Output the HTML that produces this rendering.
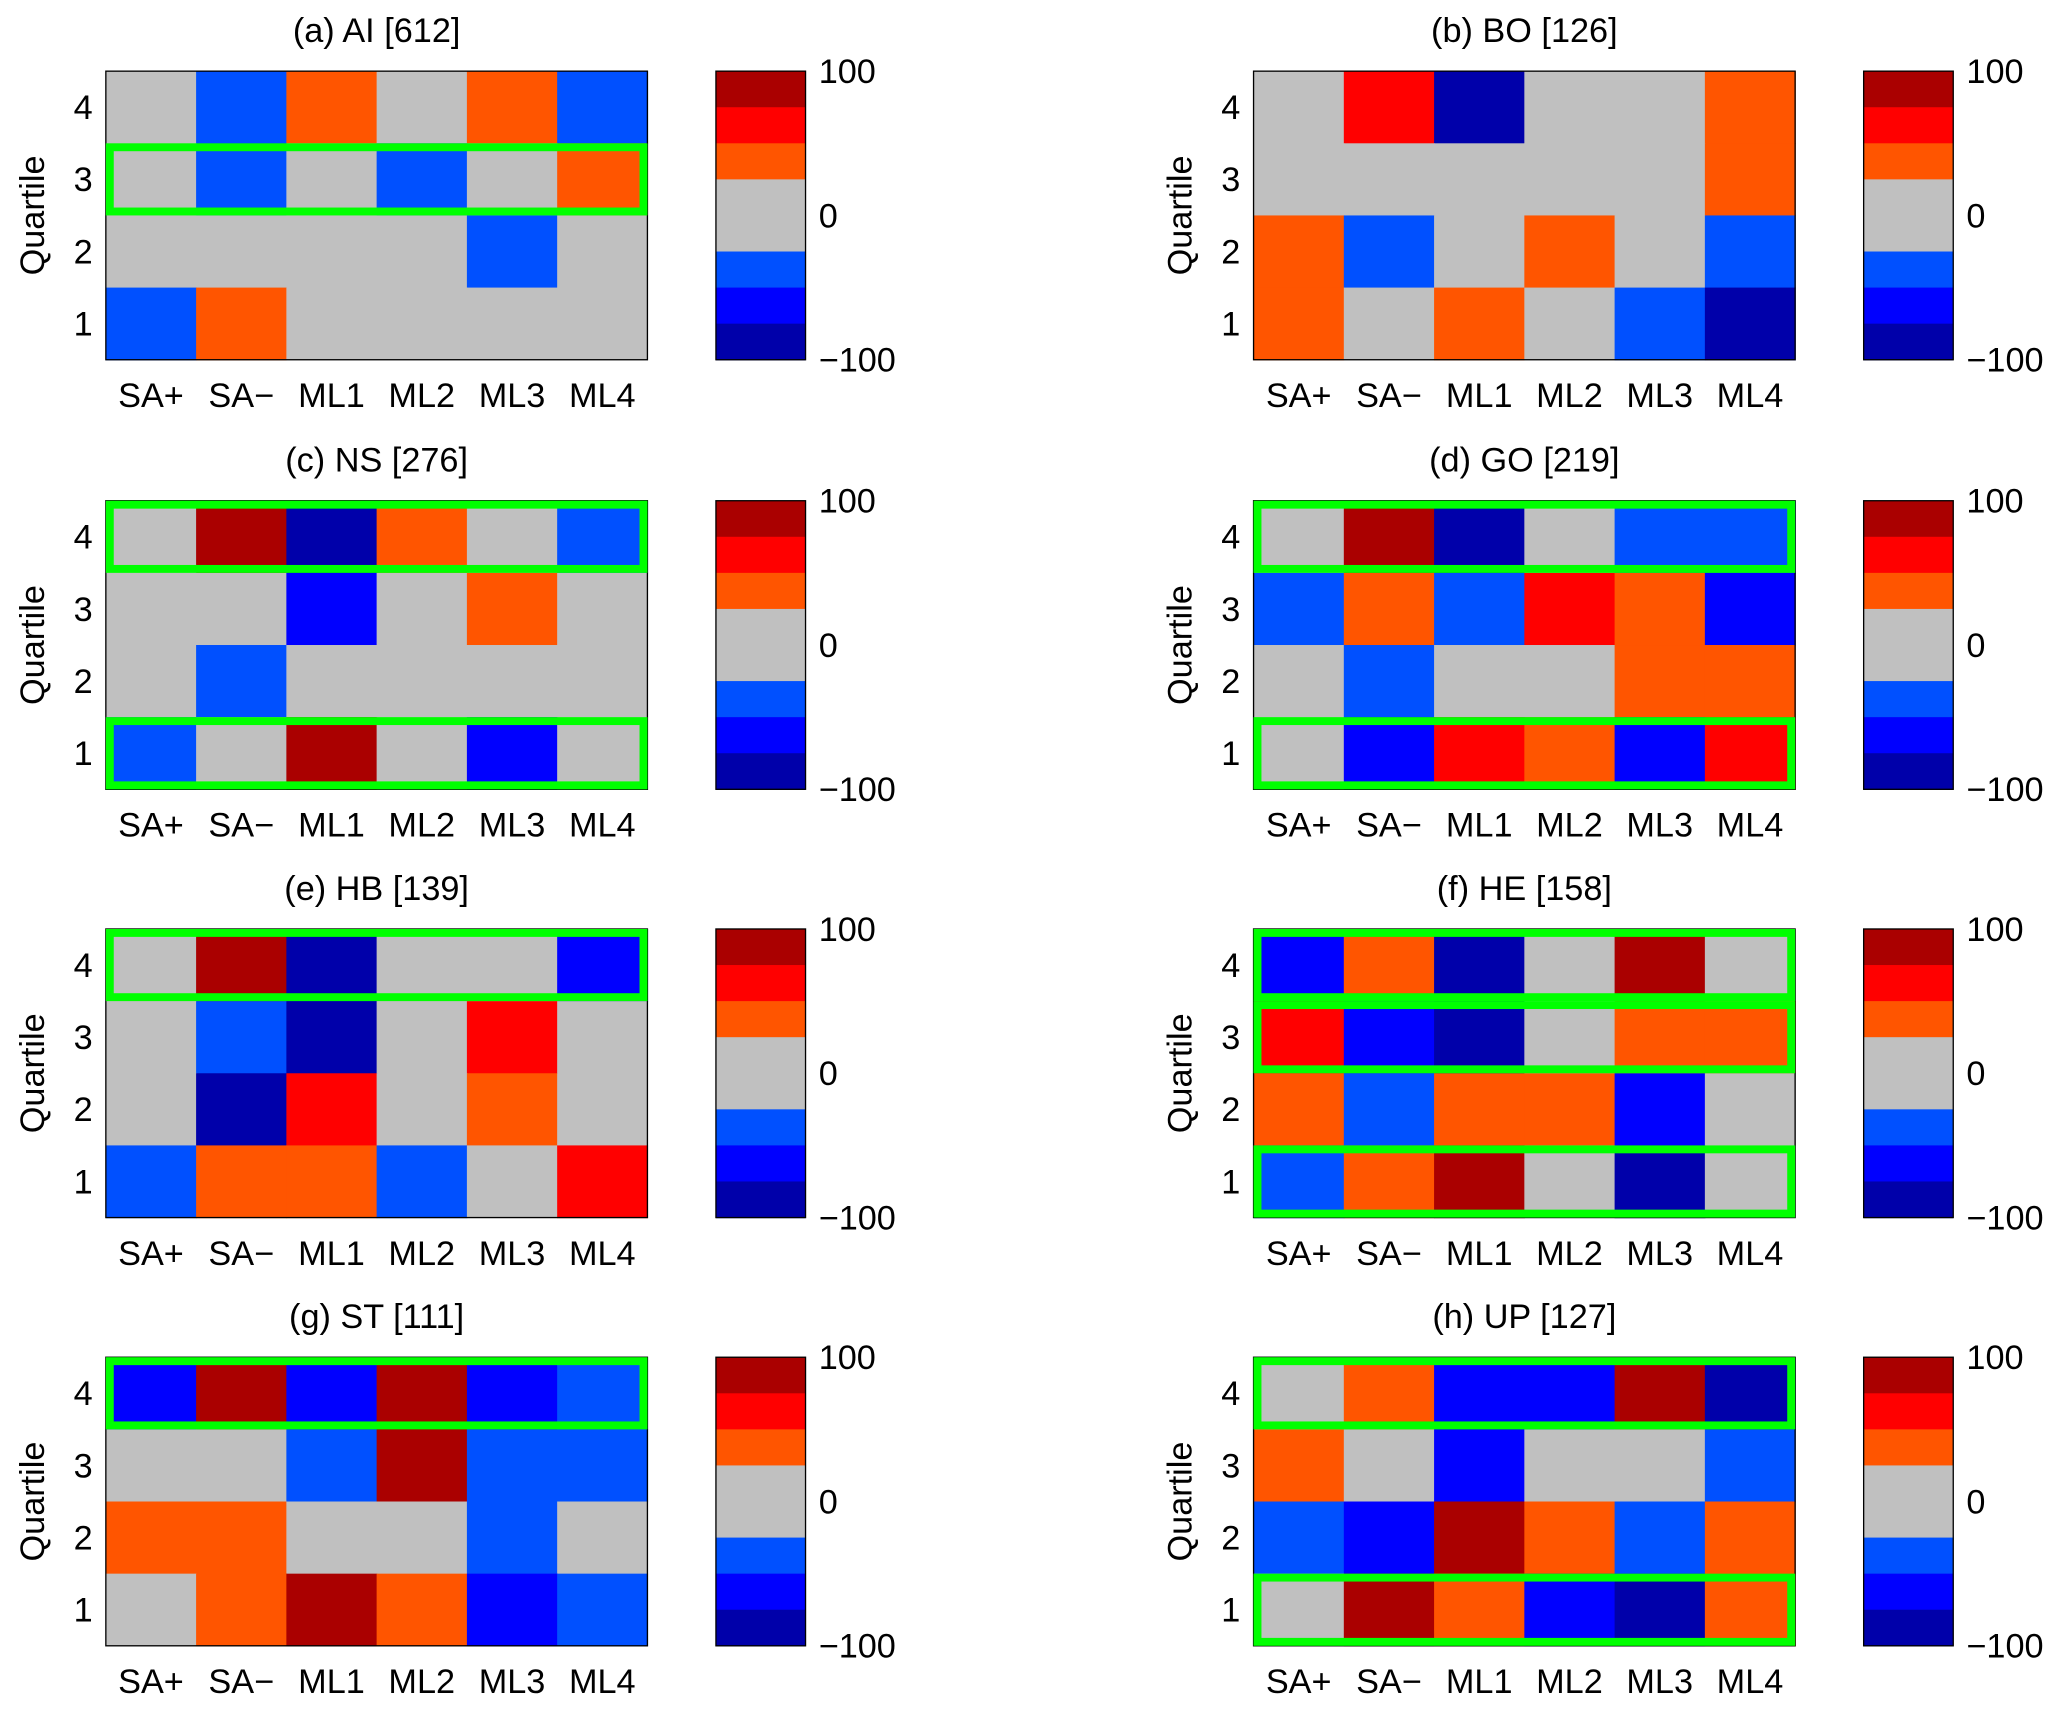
<!DOCTYPE html>
<html><head><meta charset="utf-8"><style>
html,body{margin:0;padding:0;background:#fff}
svg{display:block}
text{font-family:"Liberation Sans",Helvetica,sans-serif;fill:#000}
</style></head><body>
<svg id="fig" width="2067" height="1713" viewBox="0 0 1568 1300"></svg>
<script>
const columns = ["SA+","SA\u2212","ML1","ML2","ML3","ML4"];
const quartiles = [4,3,2,1];
const panelTitles = ["(a) AI [612]","(b) BO [126]","(c) NS [276]","(d) GO [219]","(e) HB [139]","(f) HE [158]","(g) ST [111]","(h) UP [127]"];
// values per panel: rows quartile 4..1, level -3..3
const valuesA = [[0,-1,1,0,1,-1],[0,-1,0,-1,0,1],[0,0,0,0,-1,0],[-1,1,0,0,0,0]];
const valuesB = [[0,2,-3,0,0,1],[0,0,0,0,0,1],[1,-1,0,1,0,-1],[1,0,1,0,-1,-3]];
const valuesC = [[0,3,-3,1,0,-1],[0,0,-2,0,1,0],[0,-1,0,0,0,0],[-1,0,3,0,-2,0]];
const valuesD = [[0,3,-3,0,-1,-1],[-1,1,-1,2,1,-2],[0,-1,0,0,1,1],[0,-2,2,1,-2,2]];
const valuesE = [[0,3,-3,0,0,-2],[0,-1,-3,0,2,0],[0,-3,2,0,1,0],[-1,1,1,-1,0,2]];
const valuesF = [[-2,1,-3,0,3,0],[2,-2,-3,0,1,1],[1,-1,1,1,-2,0],[-1,1,3,0,-3,0]];
const valuesG = [[-2,3,-2,3,-2,-1],[0,0,-1,3,-1,-1],[1,1,0,0,-1,0],[0,1,3,1,-2,-1]];
const valuesH = [[0,1,-2,-2,3,-3],[1,0,-2,0,0,-1],[-1,-2,3,1,-1,1],[0,3,1,-2,-3,1]];
const highlights = [[3],[],[4,1],[4,1],[4],[4,3,1],[4],[4,1]];
const colorbarTicks = [100,0,-100];

const allValues=[valuesA,valuesB,valuesC,valuesD,valuesE,valuesF,valuesG,valuesH];
const cmap={"-3":"#0000AA","-2":"#0000FF","-1":"#0050FF","0":"#C0C0C0","1":"#FF5500","2":"#FF0000","3":"#AA0000"};
const cbColors=["#AA0000","#FF0000","#FF5500","#C0C0C0","#C0C0C0","#0050FF","#0000FF","#0000AA"];
const NS="http://www.w3.org/2000/svg";
const svg=document.getElementById("fig");
function mk(tag,attrs,parent){const e=document.createElementNS(NS,tag);for(const k in attrs)e.setAttribute(k,attrs[k]);(parent||svg).appendChild(e);return e;}
const colX=[80,951], cbX=[543,1414], rowY=[54,380,705,1030];
const W=411,H=219,CBW=68,FS=26;
allValues.forEach((vals,p)=>{
  const x0=colX[p%2], y0=rowY[Math.floor(p/2)];
  const g=mk("g",{});
  
  
  const cw=W/columns.length, rh=H/quartiles.length;
  const xs=i=>x0+i*cw, ys=j=>y0+j*rh;
  const t=mk("text",{x:x0+W/2,y:y0-22,"font-size":FS,"text-anchor":"middle"},g);t.textContent=panelTitles[p];
  
  vals.forEach((row,j)=>row.forEach((v,i)=>{
    const r=mk("rect",{x:xs(i),y:ys(j),width:cw+0.5,height:rh+0.5,fill:cmap[v]},g);
    
  }));
  const b=mk("rect",{x:x0,y:y0,width:W,height:H,fill:"none",stroke:"#000","stroke-width":1},g);
  
  highlights[p].forEach(q=>{
    const j=quartiles.indexOf(q);
    const h=mk("rect",{x:x0+3,y:ys(j)+3,width:W-6,height:rh-6,fill:"none",stroke:"#00FF00","stroke-width":6},g);
    
  });
  quartiles.forEach((q,j)=>{const tt=mk("text",{x:x0-10,y:ys(j)+rh/2+9,"font-size":FS,"text-anchor":"end"},g);tt.textContent=q;
    });
  columns.forEach((c,i)=>{const tt=mk("text",{x:xs(i)+cw/2,y:y0+H+36,"font-size":FS,"text-anchor":"middle"},g);tt.textContent=c;
    });
  const yl=mk("text",{x:0,y:0,"font-size":FS,"text-anchor":"middle",transform:`translate(${x0-47},${y0+H/2}) rotate(-90)`},g);yl.textContent="Quartile";
  
  const cx=cbX[p%2], sh=H/cbColors.length;
  cbColors.forEach((c,k)=>{const r=mk("rect",{x:cx,y:y0+k*sh,width:CBW,height:sh+0.5,fill:c},g);
    });
  const cf=mk("rect",{x:cx,y:y0,width:CBW,height:H,fill:"none",stroke:"#000","stroke-width":1},g);
  
  colorbarTicks.forEach(v=>{const yy=y0+(100-v)/200*H;const tt=mk("text",{x:cx+CBW+10,y:yy+9,"font-size":FS},g);
    tt.textContent=v<0?"\u2212"+(-v):String(v);
    });
});
</script>
</body></html>
